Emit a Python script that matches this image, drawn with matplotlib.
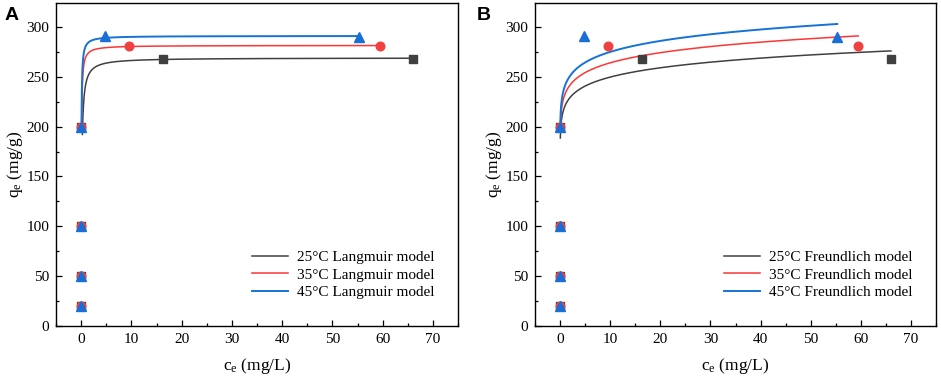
import numpy as np
import matplotlib.pyplot as plt
from matplotlib.ticker import MultipleLocator

plt.rcParams['font.family'] = ['Liberation Serif', 'DejaVu Serif']
plt.rcParams['mathtext.fontset'] = 'custom'
plt.rcParams['mathtext.rm'] = 'Liberation Serif'
plt.rcParams['mathtext.it'] = 'Liberation Serif'

# experimental points
temps = ['25°C', '35°C', '45°C']
ce_25 = [0.0, 0.0, 0.0, 0.05, 16.3, 66.0]
qe_25 = [20, 50, 100, 200, 267.5, 268.0]
ce_35 = [0.0, 0.0, 0.0, 0.05, 9.6, 59.5]
qe_35 = [20, 50, 100, 200, 280.8, 281.0]
ce_45 = [0.0, 0.0, 0.0, 0.05, 4.7, 55.3]
qe_45 = [20, 50, 100, 200, 291.0, 289.5]

# fitted parameters
lang_qm = [269.0, 281.5, 291.0]
lang_kl = [10.0, 25.0, 30.0]
lang_c0 = [0.25, 0.1, 0.08]
freu_kf = [221.0, 232.8, 241.3]
freu_n = [1 / 0.053, 1 / 0.0546, 1 / 0.0567]
freu_c0 = [0.05, 0.05, 0.05]

ce_sets = [ce_25, ce_35, ce_45]
qe_sets = [qe_25, qe_35, qe_45]
line_colors = ['#404040', '#ff3535', '#1672d6']
pt_colors = ['#404040', '#f04040', '#1a6fd6']
markers = ['s', 'o', '^']
msizes = [5.2, 6.2, 6.8]
lwidths = [1.1, 1.1, 1.4]

fig = plt.figure(figsize=(9.41, 3.81), dpi=100)
axA = fig.add_axes([56 / 941, 55 / 381, 402 / 941, 323 / 381])
axB = fig.add_axes([535 / 941, 55 / 381, 401 / 941, 323 / 381])

for ax, model, letter in [(axA, 'Langmuir', 'A'), (axB, 'Freundlich', 'B')]:
    for i in range(3):
        cmax = max(ce_sets[i])
        if model == 'Langmuir':
            c = np.concatenate([np.linspace(lang_c0[i], 3, 300), np.linspace(3, cmax, 300)])
            q = lang_qm[i] * lang_kl[i] * c / (1 + lang_kl[i] * c)
        else:
            c = np.concatenate([np.linspace(freu_c0[i], 3, 300), np.linspace(3, cmax, 300)])
            q = freu_kf[i] * c ** (1 / freu_n[i])
        ax.plot(c, q, color=line_colors[i], lw=lwidths[i], label=f'{temps[i]} {model} model', zorder=2)
    for i in range(3):
        ax.plot(ce_sets[i], qe_sets[i], linestyle='none', marker=markers[i], ms=msizes[i],
                color=pt_colors[i], mec=pt_colors[i], zorder=3)
    ax.set_xlim(-5, 75)
    ax.set_ylim(0, 324)
    ax.xaxis.set_major_locator(MultipleLocator(10))
    ax.xaxis.set_minor_locator(MultipleLocator(5))
    ax.yaxis.set_major_locator(MultipleLocator(50))
    ax.yaxis.set_minor_locator(MultipleLocator(25))
    ax.tick_params(which='both', direction='in', labelsize=11, width=0.9)
    ax.tick_params(which='major', length=4, pad=5)
    ax.tick_params(which='minor', length=2.5)
    for s in ax.spines.values():
        s.set_linewidth(1.0)
    ax.set_xlabel(r'c$_\mathregular{e}$ (mg/L)', fontsize=12.5, labelpad=7)
    ax.set_ylabel(r'q$_\mathregular{e}$ (mg/g)', fontsize=12.5, labelpad=1)
    ax.legend(loc='lower right', frameon=False, fontsize=11, handlelength=2.3,
              handletextpad=0.6, labelspacing=0.25, bbox_to_anchor=(0.975, 0.04))
    fig.text(5 / 941 if letter == 'A' else 477 / 941, 1 - 20 / 381, letter,
             fontsize=14, fontweight='bold', family='Liberation Sans')

fig.savefig('out.png', dpi=100)
